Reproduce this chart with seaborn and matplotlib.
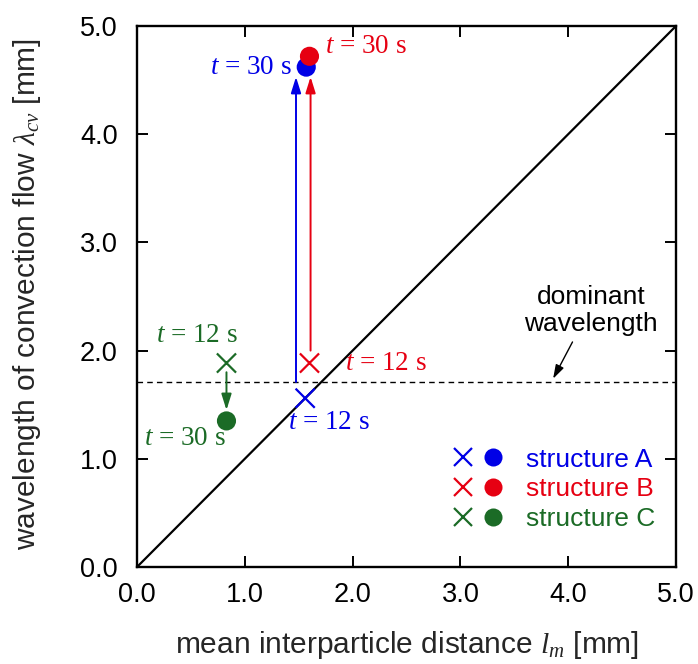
import matplotlib
matplotlib.use("Agg")
import matplotlib.pyplot as plt
import seaborn as sns
import pandas as pd
from matplotlib.lines import Line2D
from matplotlib.legend_handler import HandlerTuple

# ---- data ----
structures = ["structure A", "structure B", "structure C"]
colors = ["#0000e6", "#e60012", "#1b6b26"]
lm_12s = [1.56, 1.60, 0.83]
lcv_12s = [1.56, 1.885, 1.885]
lm_30s = [1.57, 1.60, 0.83]
lcv_30s = [4.62, 4.72, 1.35]
dominant_wavelength = 1.71

sns.set_theme(style="ticks")
plt.rcParams["font.family"] = ["Liberation Sans", "DejaVu Sans"]
plt.rcParams["mathtext.fontset"] = "custom"
plt.rcParams["mathtext.rm"] = "Liberation Serif"
plt.rcParams["mathtext.it"] = "Liberation Serif:italic"

fig = plt.figure(figsize=(6.98, 6.64), dpi=100)
ax = fig.add_axes([137/698, 1 - 567/664, (676-137)/698, (567-26)/664])

df12 = pd.DataFrame({"lm": lm_12s, "lcv": lcv_12s, "s": structures})
df30 = pd.DataFrame({"lm": lm_30s, "lcv": lcv_30s, "s": structures})
pal = dict(zip(structures, colors))

# reference lines
ax.plot([0, 5], [0, 5], color="black", lw=1.6, zorder=1)
ax.axhline(dominant_wavelength, color="black", lw=1.0, ls=(0, (4, 3)), zorder=1)

# arrows
def arrow(x0, y0, x1, y1, c, lw=1.4, hl=0.8, hw=0.25):
    ax.annotate("", xy=(x1, y1), xytext=(x0, y0),
                arrowprops=dict(arrowstyle=f"-|>,head_length={hl},head_width={hw}",
                                color=c, lw=lw, shrinkA=0, shrinkB=0), zorder=2)

arrow(1.475, dominant_wavelength, 1.475, 4.53, colors[0])
arrow(1.61, 2.0, 1.61, 4.53, colors[1])
arrow(0.83, 1.80, 0.83, 1.45, colors[2])

sns.scatterplot(data=df12, x="lm", y="lcv", hue="s", palette=pal, marker="x",
                s=190, linewidth=1.6, legend=False, ax=ax, zorder=3)
sns.scatterplot(data=df30, x="lm", y="lcv", hue="s", palette=pal, marker="o",
                s=190, linewidth=0, legend=False, ax=ax, zorder=4)

tfs = 19.5
def tl(x, y, t, c, ha):
    ax.text(x, y, "$t$ = " + t + " s", color=c, fontsize=tfs, ha=ha, va="center",
            family="Liberation Serif")

tl(1.44, 4.62, "30", colors[0], "right")
tl(1.74, 4.81, "30", colors[1], "left")
tl(1.93, 1.885, "12", colors[1], "left")
tl(1.78, 1.34, "12", colors[0], "center")
tl(0.56, 2.14, "12", colors[2], "center")
tl(0.445, 1.19, "30", colors[2], "center")

# dominant wavelength annotation
ax.text(4.21, 2.37, "dominant\nwavelength", ha="center", va="center", fontsize=19,
        color="black", linespacing=1.15)
arrow(4.04, 2.08, 3.86, 1.74, "black", lw=1.0, hl=0.7, hw=0.22)

# legend
handles = []
for c in colors:
    handles.append((Line2D([], [], marker="x", ls="", color=c, markersize=13, mew=1.6),
                    Line2D([], [], marker="o", ls="", color=c, markersize=13, mew=0)))
leg = ax.legend(handles, structures, handler_map={tuple: HandlerTuple(ndivide=None, pad=0.3)},
                loc="lower right", bbox_to_anchor=(0.99, 0.037), frameon=False,
                fontsize=19, handlelength=2.0, handletextpad=0.8, labelspacing=0.22,
                borderaxespad=0.2, labelcolor=colors)

ax.set_xlim(0, 5)
ax.set_ylim(0, 5)
ticks = [0, 1, 2, 3, 4, 5]
tick_labels = ["0.0", "1.0", "2.0", "3.0", "4.0", "5.0"]
ax.set_xticks(ticks)
ax.set_xticklabels(tick_labels)
ax.set_yticks(ticks)
ax.set_yticklabels(tick_labels)
ax.tick_params(direction="in", length=8, width=1.4, labelsize=19.5, top=True, right=True,
               colors="black")
ax.tick_params(axis="x", pad=11)
ax.tick_params(axis="y", pad=14)
for sp in ax.spines.values():
    sp.set_linewidth(1.7)
    sp.set_color("black")
ax.set_xlabel("mean interparticle distance $l_m$ [mm]", fontsize=21.5)
ax.set_ylabel("wavelength of convection flow $\\lambda_{cv}$ [mm]", fontsize=21.5)
ax.xaxis.set_label_coords(0.5, -0.115)
ax.yaxis.set_label_coords(-0.174, 0.505)

fig.savefig("out.png", dpi=100)
